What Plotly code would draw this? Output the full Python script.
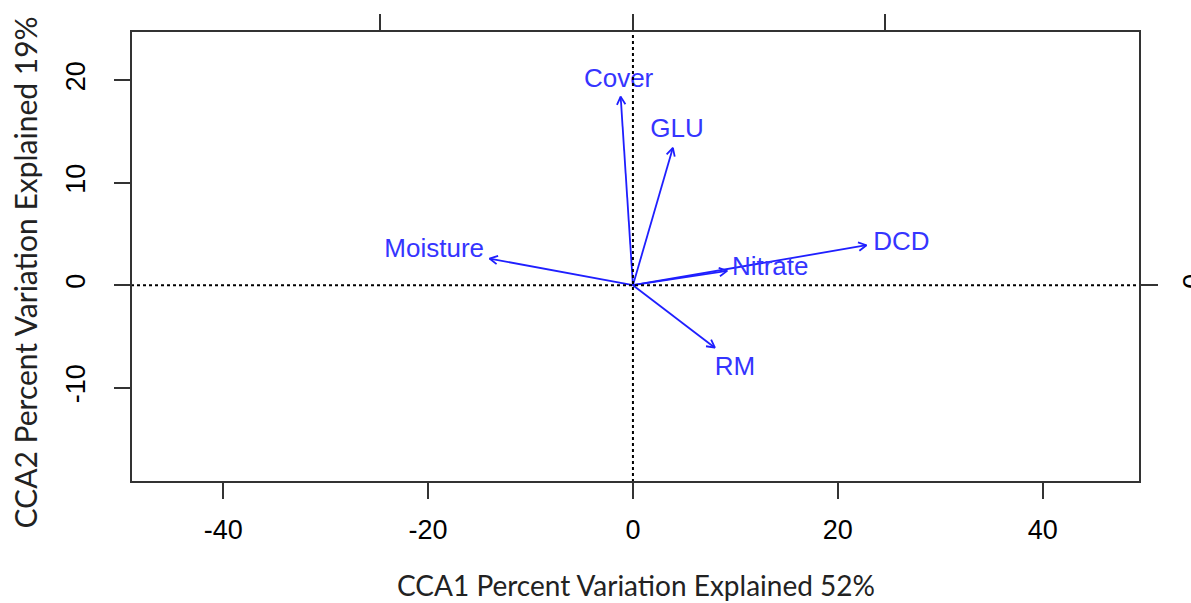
import plotly.graph_objects as go
import numpy as np

# Biplot arrow tips (CCA1, CCA2)
variables = ["Cover", "GLU", "DCD", "Nitrate", "Moisture", "RM"]
cca1 = [-1.2, 3.9, 22.8, 9.2, -14.0, 8.0]
cca2 = [18.4, 13.4, 3.9, 1.4, 2.6, -6.1]
# label anchor positions (data units)
label_x = [-1.4, 4.3, 26.2, 13.4, -19.4, 9.95]
label_y = [20.0, 15.1, 4.1, 1.65, 3.4, -8.1]

x_ticks = [-40, -20, 0, 20, 40]
x_ticktext = ["-40", "-20", "0", "20", "40"]
y_ticks = [-10, 0, 10, 20]
y_ticktext = ["-10", "0", "10", "20"]
top_ticks = [-1, 0, 1]      # secondary (arrow-scale) axis
right_ticks = [0]
right_ticktext = ["0"]
arrow_mul = 24.65

W, H = 1191, 603
L, R, T, B = 131, 51, 31, 121
xr = [-49.0, 49.5]
yr = [-19.2, 24.8]
pw, ph = W - L - R, H - T - B
sx = pw / (xr[1] - xr[0])
sy = ph / (yr[1] - yr[0])

BLUE = "#1f1fff"
LBLUE = "#3535ff"

fig = go.Figure()

# arrows (shafts + open V heads)
head_len = 9.0
head_ang = np.deg2rad(28)
for v, x, y in zip(variables, cca1, cca2):
    fig.add_trace(go.Scatter(x=[0, x], y=[0, y], mode="lines",
                             line=dict(color=BLUE, width=1.8),
                             hoverinfo="skip", showlegend=False))
    dx, dy = x * sx, y * sy
    ang = np.arctan2(dy, dx)
    hx, hy = [], []
    for s in (1, -1):
        a = ang + np.pi + s * head_ang
        hx.append(x + head_len * np.cos(a) / sx)
        hy.append(y + head_len * np.sin(a) / sy)
    fig.add_trace(go.Scatter(x=[hx[0], x, hx[1]], y=[hy[0], y, hy[1]], mode="lines",
                             line=dict(color=BLUE, width=1.8),
                             hoverinfo="skip", showlegend=False))

# labels
fig.add_trace(go.Scatter(x=label_x, y=label_y, mode="text", text=variables,
                         textposition="middle center",
                         textfont=dict(family="Liberation Sans, Arial", size=26, color=LBLUE),
                         hoverinfo="skip", showlegend=False))

# dotted zero lines
fig.add_shape(type="line", x0=xr[0], x1=xr[1], y0=0, y1=0, xref="x", yref="y",
              line=dict(color="black", width=2, dash="dot"))
fig.add_shape(type="line", x0=0, x1=0, y0=yr[0], y1=yr[1], xref="x", yref="y",
              line=dict(color="black", width=2, dash="dot"))

# box
fig.add_shape(type="rect", xref="paper", yref="paper", x0=0, x1=1, y0=0, y1=1,
              line=dict(color="#333333", width=2))

tickfont = dict(family="Liberation Sans, Arial", size=27, color="black")
fig.update_layout(
    width=W, height=H,
    margin=dict(l=L, r=R, t=T, b=B, pad=0, autoexpand=False),
    paper_bgcolor="white", plot_bgcolor="white",
    xaxis=dict(range=xr, tickvals=x_ticks, ticktext=x_ticktext, ticks="outside", ticklen=16,
               tickwidth=2, tickcolor="#333333", showgrid=False, zeroline=False,
               showline=False, tickfont=tickfont, ticklabelstandoff=8, automargin=False),
    yaxis=dict(range=yr, tickvals=y_ticks, ticktext=y_ticktext, ticks="outside", ticklen=16,
               tickwidth=2, tickcolor="#333333", showgrid=False, zeroline=False,
               showline=False, tickfont=tickfont, tickangle=-90, ticklabelstandoff=18,
               automargin=False),
    xaxis2=dict(range=[xr[0] / arrow_mul, xr[1] / arrow_mul], overlaying="x", side="top",
                tickvals=top_ticks, ticks="outside", ticklen=16, tickwidth=2,
                tickcolor="#333333", showticklabels=False, showgrid=False,
                zeroline=False, showline=False, automargin=False),
    yaxis2=dict(range=[yr[0] / arrow_mul, yr[1] / arrow_mul], overlaying="y", side="right",
                tickvals=right_ticks, ticktext=right_ticktext, ticks="outside", ticklen=17,
                tickwidth=2, tickcolor="#333333", showgrid=False, zeroline=False,
                showline=False, tickfont=tickfont, tickangle=-90, ticklabelstandoff=12,
                automargin=False),
)
fig.add_trace(go.Scatter(x=[0], y=[0], xaxis="x2", yaxis="y2", mode="markers",
                         marker=dict(opacity=0), hoverinfo="skip", showlegend=False))

fig.add_annotation(text="CCA1 Percent Variation Explained 52%", xref="paper", yref="paper",
                   x=0.5, y=0, yshift=-103, showarrow=False,
                   font=dict(family="Lato, Open Sans", size=28, color="#222222"),
                   xanchor="center", yanchor="middle")
fig.add_annotation(text="CCA2 Percent Variation Explained 19%", xref="paper", yref="paper",
                   x=0, xshift=-107, y=0.5, yshift=-16, showarrow=False,
                   font=dict(family="Lato, Open Sans", size=30, color="#222222"),
                   textangle=-90, xanchor="center", yanchor="middle")

fig.write_html("out.html")
